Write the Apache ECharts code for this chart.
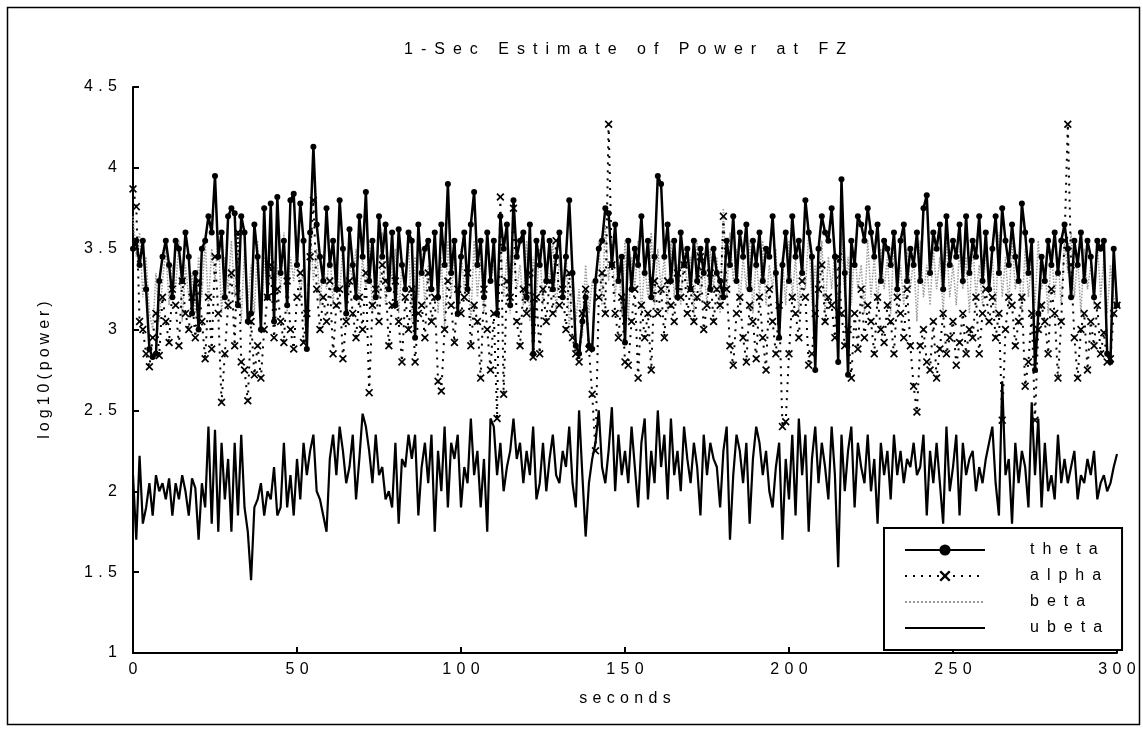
<!DOCTYPE html>
<html><head><meta charset="utf-8">
<script src="https://cdn.jsdelivr.net/npm/echarts@6/dist/echarts.min.js"></script>
<style>html,body{margin:0;padding:0;background:#fff}#c{width:1143px;height:729px}</style>
</head><body><div id="c"></div>
<script>
const seriesNames = ['theta','alpha','beta','ubeta'];
const titleText = '1-Sec Estimate of Power at FZ';
const xName = 'seconds';
const yName = 'log10(power)';

const theta = [
3.50,3.55,3.40,3.55,3.25,2.88,2.83,2.85,3.30,3.45,
3.55,3.40,3.20,3.55,3.50,3.30,3.60,3.45,3.10,3.35,
3.00,3.50,3.55,3.70,3.60,3.95,3.45,3.60,3.20,3.70,
3.75,3.72,3.15,3.70,3.60,3.05,3.10,3.65,3.45,3.00,
3.75,3.20,3.78,3.05,3.82,3.35,3.55,3.15,3.80,3.84,
3.40,3.78,3.55,2.88,3.60,4.13,3.65,3.45,3.30,3.75,
3.40,3.55,3.25,3.80,3.50,3.10,3.62,3.40,3.20,3.70,
3.45,3.85,3.30,3.55,3.20,3.70,3.45,3.65,3.25,3.60,
3.15,3.62,3.40,3.25,3.60,3.55,2.95,3.65,3.35,3.50,
3.55,3.25,3.60,3.20,3.65,3.40,3.90,3.35,3.55,3.10,
3.45,3.60,3.25,3.65,3.85,3.40,3.55,3.20,3.60,3.30,
3.55,3.10,3.70,3.50,3.65,3.15,3.80,3.45,3.55,3.60,
3.20,3.65,2.85,3.55,3.40,3.60,3.30,3.55,3.25,3.45,
3.60,3.20,3.45,3.80,3.35,2.90,2.85,3.05,3.20,2.90,
2.88,3.30,3.50,3.55,3.75,3.72,3.40,3.65,3.30,3.45,
2.92,3.55,3.25,3.50,3.40,3.70,3.35,3.55,3.20,3.45,
3.95,3.90,3.45,3.65,3.30,3.55,3.20,3.60,3.40,3.50,
3.25,3.55,3.30,3.50,3.35,3.55,3.25,3.50,3.35,3.30,
3.20,3.55,3.40,3.70,3.30,3.60,3.45,3.65,3.25,3.55,
3.40,3.60,3.30,3.50,3.45,3.70,3.35,2.95,3.40,3.60,
3.30,3.70,3.45,3.55,3.35,3.80,3.60,3.45,2.75,3.50,
3.70,3.60,3.55,3.75,3.45,2.80,3.93,3.35,2.72,3.55,
3.40,3.70,3.65,3.55,3.75,3.60,3.45,3.65,3.30,3.55,
3.50,3.40,3.60,3.25,3.55,3.65,3.30,3.50,3.40,3.60,
3.30,3.75,3.83,3.35,3.60,3.50,3.65,3.25,3.70,3.40,
3.55,3.45,3.65,3.30,3.70,3.35,3.55,3.45,3.70,3.30,
3.60,3.25,3.50,3.70,3.35,3.75,3.55,3.40,3.65,3.45,
3.30,3.78,3.60,3.35,3.55,2.75,3.10,3.45,3.30,3.55,
3.40,3.60,3.35,3.55,3.65,3.50,3.20,3.55,3.40,3.60,
3.30,3.55,3.45,3.20,3.55,3.50,3.55,2.85,2.80,3.50,
3.15];

const alpha = [
3.87,3.76,3.05,3.00,2.85,2.77,2.95,3.10,2.84,3.20,
3.05,2.92,3.25,3.15,2.90,3.30,3.10,3.00,3.20,2.95,
3.30,3.05,2.82,3.20,2.88,3.45,3.10,2.55,2.85,3.15,
3.35,2.90,3.60,2.80,2.75,2.56,3.05,2.72,2.90,2.70,
3.00,3.20,3.40,2.95,3.25,3.05,2.92,3.30,3.00,2.88,
3.20,3.35,2.92,3.10,3.45,3.80,3.25,3.00,3.20,3.05,
3.30,2.85,3.15,3.25,2.82,3.05,3.30,3.10,2.95,3.20,
3.00,3.35,2.61,3.15,3.25,3.05,3.40,3.30,2.90,3.15,
3.30,3.05,2.80,3.20,3.00,3.25,2.80,3.10,3.15,2.95,
3.35,3.05,3.20,2.68,2.62,3.00,3.30,3.15,2.92,3.25,
3.10,3.20,3.35,2.90,3.15,3.05,2.70,3.25,3.00,2.75,
3.10,2.45,3.82,2.60,3.30,3.20,3.75,3.05,2.90,3.25,
3.10,3.35,2.83,3.20,2.85,3.25,3.05,3.30,3.10,3.55,
3.15,3.25,3.00,3.35,2.95,2.85,2.80,3.10,3.25,2.88,
2.60,2.25,3.20,3.35,3.10,4.27,3.40,3.10,2.95,3.20,
2.80,2.78,3.05,3.25,2.70,3.15,2.95,3.10,2.75,3.30,
3.10,3.25,2.95,3.30,3.15,3.05,3.35,3.20,3.40,3.10,
3.25,3.05,3.20,3.45,3.00,3.15,3.35,3.05,3.25,3.15,
3.70,3.25,2.90,2.78,3.10,3.20,2.95,2.80,3.15,3.05,
2.82,3.20,2.95,2.75,3.25,3.05,2.85,3.15,2.40,2.43,
2.85,3.20,3.10,2.95,3.30,3.20,2.78,2.85,3.10,3.25,
3.40,3.05,3.20,3.15,2.95,3.45,3.10,2.90,3.00,2.70,
3.10,2.88,3.25,2.95,3.15,3.05,2.85,3.20,3.00,2.92,
3.15,3.05,2.85,3.20,3.10,2.95,3.25,2.90,2.65,2.49,
2.90,3.00,2.80,2.75,3.05,2.70,2.88,3.10,2.85,2.95,
3.05,2.78,2.92,3.10,2.85,3.00,2.95,3.20,2.85,3.10,
3.25,3.05,3.20,2.95,3.10,2.44,3.00,3.20,3.15,2.90,
3.05,3.20,2.65,2.80,3.10,2.44,3.00,3.15,3.05,2.85,
3.25,3.10,2.70,3.05,3.55,4.27,3.40,2.95,2.70,3.00,
3.10,2.75,3.05,2.90,3.15,2.85,2.98,2.80,2.82,3.10,
3.15];

const beta = [
3.70,3.45,3.60,3.20,3.45,3.10,3.00,3.35,3.05,3.30,
3.50,3.15,3.40,3.25,3.55,3.05,3.40,3.20,3.35,3.10,
3.45,3.20,3.55,3.15,3.50,3.30,3.60,3.10,3.45,3.25,
3.55,3.20,3.45,3.05,3.50,3.15,3.40,3.10,3.55,3.00,
3.45,3.20,3.55,3.15,3.40,3.25,3.60,3.10,3.45,3.30,
3.55,3.20,3.40,3.05,3.65,3.30,3.50,3.15,3.40,3.25,
3.50,3.15,3.45,3.20,3.55,3.05,3.40,3.30,3.50,3.15,
3.45,3.25,3.55,3.10,3.40,3.20,3.60,3.15,3.45,3.30,
3.50,3.10,3.40,3.25,3.55,3.05,3.45,3.20,3.50,3.15,
3.40,3.25,3.60,3.10,3.45,3.00,3.55,3.20,3.45,3.15,
3.50,3.25,3.40,3.05,3.55,3.20,3.45,3.10,3.60,3.30,
3.40,3.15,3.55,3.20,3.45,3.10,3.50,3.25,3.40,3.15,
3.55,3.05,3.45,3.20,3.50,3.15,3.40,3.30,3.55,3.10,
3.45,3.20,3.50,3.00,3.35,3.05,3.25,2.95,3.40,3.10,
3.30,3.20,3.55,3.15,3.65,3.30,3.50,3.20,3.45,3.10,
3.55,3.05,3.45,3.25,3.55,3.10,3.40,3.20,3.60,3.15,
3.50,3.25,3.45,3.10,3.55,3.20,3.40,3.15,3.50,3.25,
3.45,3.10,3.55,3.20,3.40,3.15,3.50,3.25,3.45,3.10,
3.75,3.20,3.60,3.30,3.50,3.15,3.45,3.25,3.55,3.10,
3.45,3.20,3.55,3.15,3.40,3.25,3.50,3.00,3.45,3.15,
3.55,3.20,3.45,3.10,3.50,3.25,3.60,3.15,3.40,3.20,
3.55,3.10,3.45,3.25,3.50,3.05,3.60,3.20,3.45,3.15,
3.50,3.25,3.40,3.10,3.55,3.20,3.45,3.15,3.50,3.25,
3.45,3.10,3.55,3.20,3.40,3.15,3.50,3.25,3.45,3.05,
3.55,3.20,3.40,3.15,3.50,3.25,3.45,3.10,3.55,3.20,
3.40,3.15,3.50,3.25,3.45,3.10,3.55,3.20,3.40,3.15,
3.50,3.25,3.45,3.10,3.60,3.20,3.45,3.15,3.55,3.25,
3.40,3.10,3.50,3.20,3.45,3.15,3.55,3.25,3.40,3.10,
3.50,3.20,3.45,3.15,3.55,3.35,3.60,3.20,3.45,3.10,
3.50,3.25,3.40,3.15,3.55,3.20,3.45,3.10,3.40,3.20,
3.15];

const ubeta = [
2.10,1.70,2.22,1.80,1.90,2.05,1.85,2.10,2.00,2.05,
1.95,2.08,1.85,2.05,1.95,2.10,2.00,1.85,2.08,2.02,
1.70,2.05,1.90,2.40,1.80,2.38,1.75,2.30,1.95,2.20,
1.75,2.30,1.85,2.35,1.90,1.75,1.45,1.90,1.95,2.05,
1.85,2.00,1.95,2.15,1.85,1.90,2.30,1.90,2.10,1.85,
2.20,1.95,2.30,2.10,2.25,2.35,2.00,1.95,1.85,1.75,
2.20,2.35,2.10,2.40,2.25,2.05,2.15,2.35,1.95,2.20,
2.48,2.40,2.25,2.05,2.35,2.10,2.15,1.95,2.00,1.90,
2.30,1.80,2.20,2.15,2.35,2.20,2.35,1.85,2.15,2.30,
2.05,2.35,1.75,2.25,2.00,2.40,1.90,2.30,2.20,2.35,
1.90,2.15,2.05,2.45,2.10,2.25,1.90,2.20,1.75,2.45,
2.40,2.10,2.30,2.00,2.15,2.25,2.45,2.20,2.30,2.05,
2.25,2.10,2.40,1.95,2.05,2.30,2.00,2.20,2.35,2.10,
2.05,2.25,2.15,2.40,2.05,1.90,2.50,2.10,1.72,2.05,
2.20,2.30,2.50,2.15,2.05,2.25,2.52,2.00,2.35,2.10,
2.25,2.05,2.40,2.15,1.90,2.30,2.45,1.95,2.25,2.05,
2.50,2.15,2.35,1.95,2.45,2.10,2.25,2.00,2.40,2.20,
2.05,2.30,2.15,1.85,2.35,2.10,2.30,2.20,2.15,1.90,
2.25,2.40,1.70,2.10,2.35,2.25,2.05,2.30,1.80,2.20,
2.40,2.30,2.10,2.25,2.00,1.90,2.15,2.30,1.70,2.20,
1.95,2.35,1.85,2.45,2.10,2.35,1.75,2.20,2.40,2.05,
2.30,2.15,1.95,2.40,2.10,1.53,2.35,2.00,2.25,2.40,
1.90,2.30,2.15,2.05,2.35,2.00,2.20,1.80,2.30,2.10,
2.25,1.95,2.35,2.10,2.25,2.05,2.20,2.15,2.30,2.10,
2.15,2.35,1.85,2.25,2.05,2.30,2.05,1.80,2.40,2.00,
2.15,2.35,1.85,2.30,2.10,2.20,2.25,2.00,2.15,2.05,
2.20,2.30,2.40,2.05,1.85,2.68,2.10,2.20,1.80,2.30,
2.05,2.25,2.15,1.90,2.55,2.10,2.45,1.90,2.30,2.00,
2.10,1.95,2.35,2.05,2.20,2.05,2.15,2.25,1.95,2.10,
2.05,2.20,2.10,2.25,1.95,2.05,2.10,2.00,2.05,2.15,
2.23];

const pairs = arr => arr.map((v, i) => [i, v]);
const spc = (s, gap) => String(s).split('').join(gap);
const FONT = 'Liberation Sans';
const xMark = 'path://M0,1.5L1.5,0L5,3.5L8.5,0L10,1.5L6.5,5L10,8.5L8.5,10L5,6.5L1.5,10L0,8.5L3.5,5Z';
const noMarkerNames = ['beta', 'ubeta'];

const chart = echarts.init(document.getElementById('c'), null, {renderer: 'canvas'});
chart.setOption({
  animation: false,
  backgroundColor: '#fff',
  textStyle: {fontFamily: FONT, color: '#000'},
  title: {
    text: spc(titleText, '\u2002'), left: 620, top: 37, textAlign: 'center',
    textStyle: {fontFamily: FONT, fontSize: 16, fontWeight: 'normal', color: '#000'}
  },
  grid: {left: 133, right: 26, top: 87, bottom: 76},
  xAxis: {
    type: 'value', min: 0, max: 300, interval: 50,
    name: spc(xName, '\u2004'), nameLocation: 'middle', nameGap: 38,
    nameTextStyle: {fontFamily: FONT, fontSize: 16, color: '#000'},
    axisLine: {lineStyle: {color: '#000', width: 2}},
    axisTick: {inside: true, length: 6, lineStyle: {color: '#000', width: 2}},
    axisLabel: {fontFamily: FONT, fontSize: 16, color: '#000', margin: 9, formatter: v => spc(v, '\u2004')},
    splitLine: {show: false}
  },
  yAxis: {
    type: 'value', min: 1, max: 4.5, interval: 0.5,
    name: spc(yName, '\u2005'), nameLocation: 'middle', nameGap: 80,
    nameTextStyle: {fontFamily: FONT, fontSize: 16, color: '#000'},
    axisLine: {show: true, lineStyle: {color: '#000', width: 2}},
    axisTick: {show: true, inside: true, length: 6, lineStyle: {color: '#000', width: 2}},
    axisLabel: {fontFamily: FONT, fontSize: 16, color: '#000', margin: 16, formatter: v => spc(v, '\u2004')},
    splitLine: {show: false}
  },
  legend: {
    orient: 'vertical', left: 884, top: 528, width: 232,
    padding: [14, 20, 14, 20], itemGap: 10, itemWidth: 80, itemHeight: 14,
    backgroundColor: '#fff', borderColor: '#000', borderWidth: 2,
    data: seriesNames.map(n => noMarkerNames.includes(n)
      ? {name: n, itemStyle: {opacity: 0}}
      : {name: n}),
    formatter: n => '\u2003\u2003\u2002' + spc(n, '\u2002'),
    textStyle: {fontFamily: FONT, fontSize: 16, color: '#000'}
  },
  graphic: [{
    type: 'rect', left: 5, top: 5, z: -1, silent: true,
    shape: {width: 1132, height: 717},
    style: {fill: 'none', stroke: '#000', lineWidth: 1.5}
  }],
  series: [
    {name: 'beta', type: 'line', data: pairs(beta), symbol: 'none', z: 1,
     lineStyle: {color: '#9a9a9a', width: 1.5, type: 'dotted'}, itemStyle: {color: '#9a9a9a'}},
    {name: 'alpha', type: 'line', data: pairs(alpha), symbol: xMark, symbolSize: 8, showAllSymbol: true, z: 2,
     lineStyle: {color: '#000', width: 2, type: [2, 6]}, itemStyle: {color: '#000'}},
    {name: 'theta', type: 'line', data: pairs(theta), symbol: 'circle', symbolSize: 6, showAllSymbol: true, z: 3,
     lineStyle: {color: '#000', width: 2.5}, itemStyle: {color: '#000'}},
    {name: 'ubeta', type: 'line', data: pairs(ubeta), symbol: 'none', z: 4,
     lineStyle: {color: '#000', width: 2.2}, itemStyle: {color: '#000'}}
  ]
});
</script></body></html>
